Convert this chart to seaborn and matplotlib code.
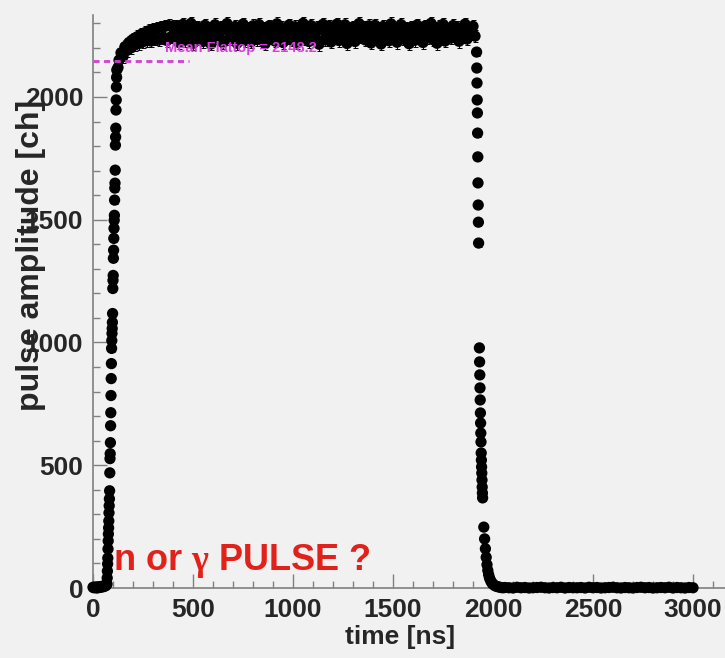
import numpy as np
import pandas as pd
import matplotlib
matplotlib.use("Agg")
import matplotlib.pyplot as plt
import seaborn as sns
from matplotlib.ticker import MultipleLocator

# ---------------- data ----------------
base_t = [0, 5, 10, 15, 20, 25, 30, 35, 40, 45, 50, 55, 60, 65]
base_v = [3, 1, 4, 2, 0, 5, 2, 3, 6, 4, 8, 6, 9, 10]

rise_t = [70, 71, 72, 73, 74, 75, 76, 77, 78, 79, 80, 81, 82, 83, 84, 85, 86,
          87, 88, 89, 90, 91, 92, 93, 94, 95, 96, 97, 98, 99, 100, 101, 102,
          103, 104, 105, 106, 107, 108, 109, 110, 111, 112, 113, 114, 115, 116,
          117, 118, 119]
rise_v = [16, 41, 69, 98, 122, 159, 192, 220, 245, 273, 306, 335, 363, 396,
          469, 527, 547, 592, 661, 714, 784, 853, 914, 976, 1008, 1037, 1057,
          1082, 1118, 1220, 1253, 1273, 1343, 1376, 1424, 1465, 1498, 1518,
          1580, 1629, 1649, 1702, 1804, 1837, 1873, 1947, 1988, 2041, 2080, 2110]

top_start_t = [125, 130, 140, 150, 160, 170, 180, 190, 200, 210, 220, 230, 240,
               250, 260, 270, 280, 290, 300, 310, 320, 330, 340, 350, 360, 370,
               380, 390, 400]
top_start_v = [2120, 2150, 2180, 2165, 2205, 2190, 2222, 2200, 2235, 2212, 2245,
               2218, 2255, 2225, 2262, 2230, 2270, 2228, 2275, 2236, 2280, 2233,
               2285, 2240, 2288, 2230, 2290, 2244, 2286]

flat_t = np.arange(410, 1911, 10)
flat_v = [2240, 2288, 2222, 2265, 2296, 2231, 2274, 2252, 2300, 2218,
          2262, 2285, 2236, 2270, 2226, 2292, 2248, 2278, 2216, 2268,
          2294, 2242, 2258, 2283, 2221, 2276, 2299, 2238, 2264, 2250,
          2287, 2219, 2272, 2246, 2297, 2230, 2281, 2256, 2225, 2290,
          2260, 2234, 2295, 2244, 2279, 2217, 2266, 2289, 2240, 2275,
          2228, 2298, 2254, 2284, 2222, 2270, 2245, 2293, 2232, 2262,
          2286, 2220, 2277, 2250, 2300, 2237, 2268, 2226, 2291, 2256,
          2243, 2282, 2215, 2273, 2296, 2235, 2260, 2288, 2224, 2280,
          2252, 2297, 2230, 2266, 2241, 2294, 2218, 2276, 2258, 2285,
          2226, 2271, 2299, 2247, 2282, 2233, 2263, 2290, 2220, 2257,
          2292, 2238, 2274, 2216, 2287, 2252, 2269, 2229, 2298, 2244,
          2278, 2223, 2265, 2295, 2236, 2281, 2249, 2217, 2284, 2261,
          2231, 2293, 2255, 2272, 2222, 2289, 2243, 2276, 2300, 2234,
          2267, 2219, 2286, 2250, 2296, 2228, 2274, 2258, 2240, 2291,
          2255, 2283, 2227, 2270, 2245, 2297, 2236, 2279, 2262, 2288,
          2248]

fall_t = [1918, 1919, 1920, 1921, 1922, 1923, 1924, 1925, 1926, 1927, 1928,
          1932, 1933, 1934, 1935, 1936, 1937, 1938, 1939, 1940, 1941, 1942,
          1943, 1944, 1945, 1946, 1947, 1948]
fall_v = [2183, 2118, 2057, 1988, 1935, 1853, 1756, 1650, 1560, 1490, 1405,
          978, 921, 868, 815, 766, 713, 672, 631, 595, 550, 521, 493, 468,
          440, 411, 387, 367]

tail_t = [1954, 1958, 1962, 1966, 1970, 1974, 1978, 1982, 1987, 1992, 1997,
          2002, 2010, 2020, 2030, 2040, 2050]
tail_v = [248, 200, 160, 125, 95, 72, 55, 42, 32, 24, 18, 14, 9, 6, 4, 2, 1]

post_t = np.arange(2060, 3001, 20)
post_v = [2, 1, 0, 3, 1, 2, 0, 1, 2, 3, 1, 0, 2, 1, 3, 0, 2, 1, 1, 2, 0, 3,
          1, 2, 0, 1, 2, 3, 1, 0, 2, 1, 0, 2, 3, 1, 2, 0, 1, 2, 1, 3, 0, 2,
          1, 0, 2, 1]

mean_flattop = 2148.2
mean_line_t = [0, 480]

x_ticks = [0, 500, 1000, 1500, 2000, 2500, 3000]
y_ticks = [0, 500, 1000, 1500, 2000]

# ---------------- build frame ----------------
seg_err = {"base": 4, "rise": 14, "top": 26, "fall": 14, "tail": 6, "post": 3}
parts = []
for name, t, v in [("base", base_t, base_v), ("rise", rise_t, rise_v),
                   ("top", top_start_t, top_start_v), ("top", flat_t, flat_v),
                   ("fall", fall_t, fall_v), ("tail", tail_t, tail_v),
                   ("post", post_t, post_v)]:
    d = pd.DataFrame({"time": np.asarray(t, float), "amp": np.asarray(v, float)})
    d["err"] = seg_err[name]
    parts.append(d)
df = pd.concat(parts, ignore_index=True)

# ---------------- style ----------------
bg = "#f1f1f1"
sns.set_theme(style="ticks")
plt.rcParams["font.family"] = ["Liberation Sans", "DejaVu Sans"]
plt.rcParams["font.weight"] = "bold"
plt.rcParams["mathtext.fontset"] = "custom"
plt.rcParams["mathtext.rm"] = "Liberation Serif"
plt.rcParams["mathtext.it"] = "Liberation Serif"

fig = plt.figure(figsize=(7.25, 6.58), dpi=100, facecolor=bg)
ax = fig.add_axes([93 / 725, 70 / 658, 632 / 725, 573 / 658])
ax.set_facecolor(bg)

ax.errorbar(df["time"], df["amp"], yerr=df["err"], fmt="none",
            ecolor="black", elinewidth=0.7, capsize=1.8, capthick=0.7,
            clip_on=False, zorder=2)
sns.scatterplot(data=df, x="time", y="amp", ax=ax, color="black", s=66,
                edgecolor="none", linewidth=0, clip_on=False, zorder=3,
                legend=False)

ax.plot(mean_line_t, [mean_flattop, mean_flattop], color="#d13fd6",
        linestyle=(0, (2.2, 1.6)), linewidth=2.0, zorder=4, clip_on=False)
ax.text(360, 2200, f"Mean Flattop = {mean_flattop}", color="#d63fdc",
        fontsize=10.5, fontweight="bold", va="center", ha="left", zorder=5)

ax.text(100, 72, r"n or $\mathrm{γ}$ PULSE ?", color="#e0221b", fontsize=26,
        fontweight="bold", ha="left", va="baseline", zorder=5)

ax.set_xlim(0, 3160)
ax.set_ylim(0, 2334)
ax.set_xticks(x_ticks)
ax.set_yticks(y_ticks)
ax.xaxis.set_minor_locator(MultipleLocator(100))
ax.yaxis.set_minor_locator(MultipleLocator(100))
ax.tick_params(axis="both", which="major", direction="in", length=10,
               width=1, color="#808080", labelsize=19, pad=7)
ax.tick_params(axis="both", which="minor", direction="in", length=5,
               width=1, color="#808080")
for lab in ax.get_xticklabels() + ax.get_yticklabels():
    lab.set_fontweight("bold")

for s in ["top", "right"]:
    ax.spines[s].set_visible(False)
for s in ["left", "bottom"]:
    ax.spines[s].set_color("#808080")
    ax.spines[s].set_linewidth(1.2)

ax.set_xlabel("time [ns]", fontsize=19, fontweight="bold")
ax.set_ylabel("pulse amplitude [ch]", fontsize=23, fontweight="bold")
ax.xaxis.set_label_coords(0.486, -0.064)
ax.yaxis.set_label_coords(-0.074, 0.581)

fig.savefig("out.png", dpi=100, facecolor=bg)
